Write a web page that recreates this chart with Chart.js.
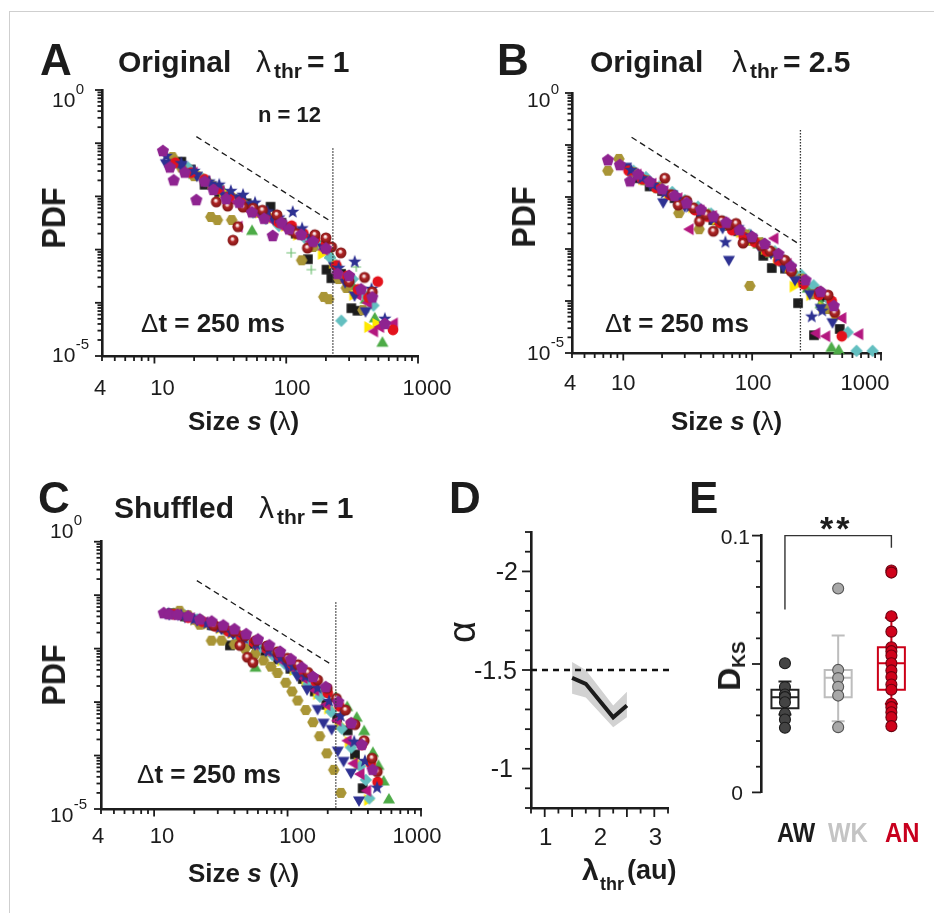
<!DOCTYPE html>
<html>
<head>
<meta charset="utf-8">
<script src="https://cdn.jsdelivr.net/npm/chart.js@4.4.1/dist/chart.umd.min.js"></script>
<style>
  html, body { margin: 0; padding: 0; background: #fff; }
  #fig { position: relative; width: 934px; height: 913px; overflow: hidden; background: #fff;
         font-family: "Liberation Sans", Arial, sans-serif; color: #1c1c1c; }
  #fig canvas { position: absolute; left: 0; top: 0; }
  #frame { position: absolute; left: 9px; top: 11px; width: 940px; height: 920px;
           border-left: 1px solid #cfcfcf; border-top: 1px solid #cfcfcf; }
  .t { position: absolute; white-space: nowrap; line-height: 1; font-weight: bold; }
</style>
</head>
<body>
<div id="fig">
  <div id="frame"></div>
  <canvas id="cA" width="934" height="913"></canvas>
  <canvas id="cB" width="934" height="913"></canvas>
  <canvas id="cC" width="934" height="913"></canvas>
  <canvas id="cD" width="934" height="913"></canvas>
  <canvas id="cE" width="934" height="913"></canvas>
</div>
<script>
// ---- data ----
// order of the 12 recordings: sphere, red circle, yellow ▶, purple pentagon, navy star,
// navy ▼, magenta ◀, cyan diamond, olive hexagon, green ▲, black square, green plus
const aDs = [[29.5,7.9e-3],[36,6.6e-3],[39.5,1.5e-3],[43,2.7e-3],[47,6.3e-3],[56,6.0e-3],[66,5.5e-3],[85,4.5e-3],[110,2.3e-3],[120,2.0e-3],[145,1.07e-3],[165,1.9e-3],[200,1.66e-3],[221,1.12e-3],[260,8.7e-4],[300,2.5e-4],[393,3.0e-4],[450,1.6e-4]];
const aRc = [[14.4,4.3e-2],[19,2.8e-2],[24,2.1e-2],[30,1.38e-2],[37,1.0e-2],[45,7.9e-3],[56,5.6e-3],[70,4.5e-3],[88,3.2e-3],[110,2.8e-3],[135,2.0e-3],[165,1.58e-3],[200,1.26e-3],[240,5.0e-4],[290,3.2e-4],[350,1.78e-4],[420,1.26e-4],[495,2.5e-4],[646,3.1e-5]];
const aYt = [[22,2.5e-2],[27,1.78e-2],[33,1.2e-2],[41,9.5e-3],[50,7.1e-3],[62,5.0e-3],[78,4.0e-3],[97,2.8e-3],[120,1.9e-3],[150,1.58e-3],[185,8.3e-4],[225,5.6e-4],[265,3.2e-4],[320,1.41e-4],[416,3.5e-5],[480,4.0e-5]];
const aPp = [[11.6,7.1e-2],[13.1,3.5e-2],[14,2.0e-2],[17,2.8e-2],[20.8,8.5e-3],[24,1.9e-2],[28,1.32e-2],[35,8.9e-3],[44,7.6e-3],[55,5.0e-3],[68,3.8e-3],[79,1.8e-3],[92,3.2e-3],[105,2.4e-3],[130,1.9e-3],[160,1.41e-3],[200,1.05e-3],[245,3.5e-4],[300,3.2e-4],[370,1.78e-4],[450,1.26e-4],[560,4.0e-5]];
const aNs = [[12.3,5.75e-2],[16,4.2e-2],[20,3.0e-2],[26,1.9e-2],[31,1.66e-2],[38,1.26e-2],[47,1.07e-2],[58,7.6e-3],[72,5.2e-3],[88,4.0e-3],[112,5.1e-3],[132,2.5e-3],[160,1.78e-3],[200,1.12e-3],[250,4.5e-4],[331,5.9e-4],[444,1.82e-4],[560,5.0e-5]];
const aBt = [[12.2,4.3e-2],[16,3.8e-2],[21,2.5e-2],[27,1.66e-2],[34,1.05e-2],[43,9.5e-3],[52,7.1e-3],[65,4.8e-3],[80,3.8e-3],[100,2.8e-3],[125,2.2e-3],[155,1.58e-3],[190,1.12e-3],[230,5.0e-4],[280,2.5e-4],[330,1.41e-4],[400,7.1e-5]];
const aMt = [[20,2.8e-2],[25,1.9e-2],[32,1.26e-2],[38,8.9e-3],[43.9,2.7e-3],[52,5.6e-3],[64,4.5e-3],[80,3.5e-3],[100,2.5e-3],[125,1.9e-3],[155,1.41e-3],[195,1.0e-3],[240,5.0e-4],[290,2.5e-4],[350,1.41e-4],[420,1.0e-4],[468,2.9e-5],[520,3.5e-5],[661,4.1e-5]];
const aCd = [[18,3.5e-2],[23,2.2e-2],[29,1.41e-2],[36,1.0e-2],[45,7.9e-3],[56,5.0e-3],[70,3.8e-3],[88,2.8e-3],[110,2.5e-3],[138,1.66e-3],[172,1.26e-3],[215,7.1e-4],[240,5.0e-4],[262,4.6e-5],[320,2.8e-4],[390,1.41e-4],[460,8.9e-5]];
const aOh = [[13.7,5.5e-2],[16,3.5e-2],[20,2.4e-2],[26.8,4.1e-3],[30,3.6e-3],[38.6,3.6e-3],[45,7.9e-3],[55,5.2e-3],[68,4.2e-3],[85,3.5e-3],[105,2.6e-3],[131,6.3e-4],[160,1.12e-3],[193,1.29e-4],[210,1.17e-4],[250,2.8e-4],[286,1.9e-4],[382,7.3e-5]];
const aGt = [[15,4.0e-2],[20,2.5e-2],[26,1.78e-2],[33,1.26e-2],[40,8.9e-3],[55,2.2e-3],[62,5.0e-3],[72,4.0e-3],[90,3.2e-3],[112,2.4e-3],[140,1.78e-3],[175,1.26e-3],[215,7.9e-4],[260,3.2e-4],[320,2.0e-4],[400,1.12e-4],[470,5.0e-5],[537,1.74e-5]];
const aSq = [[16,4.5e-2],[18.9,3.2e-2],[24,1.66e-2],[31,1.2e-2],[39,8.9e-3],[50,7.4e-3],[60,5.0e-3],[76,6.4e-3],[92,3.2e-3],[118,2.0e-3],[146,6.6e-4],[180,1.2e-3],[202,4.2e-4],[220,2.9e-4],[260,3.5e-4],[312,7.9e-5],[347,7.1e-5]];
const aGp = [[25,1.78e-2],[34,1.12e-2],[45,7.6e-3],[60,5.0e-3],[80,3.5e-3],[109,8.7e-4],[130,2.2e-3],[155,4.2e-4],[185,1.1e-3],[225,6.3e-4],[280,3.5e-4],[340,4.7e-4],[420,7.9e-5]];

const bDs = [[21,2.3e-2],[24,1.1e-2],[26.7,7.0e-3],[31,8.5e-3],[35,6.2e-3],[39,3.4e-3],[44,4.6e-3],[50,2.2e-3],[58,3.5e-3],[66,2.9e-3],[75,3.1e-3],[85,1.3e-3],[100,1.6e-3],[118,1.15e-3],[137,9.3e-4],[179,6.1e-4],[202,3.7e-4],[334,1.5e-4],[388,1.3e-4],[437,6.0e-5]];
const bRc = [[11,3.2e-2],[14,2.2e-2],[18,1.5e-2],[23,1.1e-2],[29,7.6e-3],[36,5.6e-3],[45,4.2e-3],[56,3.2e-3],[70,2.3e-3],[86,1.7e-3],[105,1.35e-3],[130,9.0e-4],[160,6.0e-4],[200,3.8e-4],[250,2.1e-4],[330,1.3e-4],[414,1.0e-4],[496,2.1e-5]];
const bYt = [[14,2.2e-2],[18,1.6e-2],[22,1.15e-2],[27,8.5e-3],[34,6.3e-3],[42,5.0e-3],[52,3.7e-3],[64,2.9e-3],[80,2.1e-3],[100,1.5e-3],[125,1.0e-3],[155,6.8e-4],[190,4.5e-4],[208,1.9e-4],[230,2.4e-4],[280,1.3e-4],[350,7.5e-5],[440,4.8e-5]];
const bPp = [[7.6,5.1e-2],[9.4,4.1e-2],[11.3,2.0e-2],[13,2.7e-2],[16,1.95e-2],[20,1.4e-2],[25,1.05e-2],[31,7.6e-3],[40,5.7e-3],[50,4.2e-3],[63,3.2e-3],[80,2.3e-3],[100,1.7e-3],[125,1.25e-3],[160,8.0e-4],[200,4.6e-4],[260,2.5e-4],[340,1.5e-4],[430,8.0e-5]];
const bNs = [[11.5,3.3e-2],[14,2.3e-2],[17,1.7e-2],[21,1.2e-2],[26,9.0e-3],[33,6.5e-3],[41,5.0e-3],[51,3.8e-3],[62,1.35e-3],[78,2.6e-3],[98,1.8e-3],[125,1.15e-3],[160,7.0e-4],[200,4.4e-4],[290,5.0e-5],[350,6.5e-5]];
const bBt = [[10.5,3.9e-2],[13,2.5e-2],[16,1.9e-2],[20.4,8.1e-3],[24,1.15e-2],[30,6.8e-3],[38,5.5e-3],[48,4.0e-3],[59,2.6e-3],[66,6.3e-4],[74,2.5e-3],[90,1.6e-3],[112,1.2e-3],[140,8.5e-4],[175,4.6e-4],[215,2.6e-4],[280,1.4e-4],[340,7.5e-5],[420,4.0e-5]];
const bMt = [[13,2.7e-2],[17,1.8e-2],[21,1.3e-2],[27,9.5e-3],[33,2.4e-3],[40,5.5e-3],[50,4.3e-3],[62,3.1e-3],[78,2.3e-3],[97,1.6e-3],[120,1.2e-3],[150,1.6e-3],[190,5.2e-4],[240,2.5e-4],[317,2.4e-5],[379,2.1e-5],[505,4.7e-5],[684,2.3e-5]];
const bCd = [[12,3.2e-2],[15,2.4e-2],[19,1.6e-2],[24,1.25e-2],[30,8.6e-3],[38,6.5e-3],[48,4.8e-3],[60,3.4e-3],[75,2.7e-3],[95,1.9e-3],[120,1.3e-3],[150,9.0e-4],[190,5.5e-4],[240,3.2e-4],[300,2.0e-4],[400,1.0e-4],[552,2.5e-5],[646,1.1e-5],[861,1.1e-5]];
const bOh = [[7.6,3.2e-2],[9.25,5.4e-2],[12,3.0e-2],[15,2.1e-2],[19,1.55e-2],[23,1.1e-2],[27,4.9e-3],[38.8,2.4e-3],[45,4.6e-3],[57,3.4e-3],[72,2.6e-3],[90,1.9e-3],[96,1.95e-4],[115,1.35e-3],[145,8.5e-4],[185,5.0e-4],[240,2.7e-4],[300,1.35e-4],[380,7.0e-5]];
const bGt = [[12,2.9e-2],[15,2.0e-2],[19,1.4e-2],[24,1.05e-2],[30,8.2e-3],[37,5.6e-3],[46,4.6e-3],[57,3.0e-3],[72,2.4e-3],[90,1.8e-3],[112,1.2e-3],[140,8.0e-4],[175,5.5e-4],[215,3.4e-4],[270,1.7e-4],[340,8.5e-5],[412,1.23e-5],[470,1.1e-5]];
const bSq = [[13,2.3e-2],[16,1.6e-2],[20,1.3e-2],[25,9.5e-3],[31,7.6e-3],[40,4.8e-3],[50,3.6e-3],[62,2.8e-3],[78,2.2e-3],[95,1.45e-3],[122,7.4e-4],[142,4.3e-4],[180,4.2e-4],[227,9.1e-5],[302,2.2e-5],[355,1.2e-4],[478,2.9e-5]];
const bGp = [[16,1.8e-2],[21,1.3e-2],[28,9.0e-3],[36,6.3e-3],[47,4.5e-3],[60,3.2e-3],[78,2.2e-3],[100,1.5e-3],[130,9.5e-4],[170,5.6e-4],[220,2.9e-4],[290,1.45e-4],[350,1.15e-4],[420,8.0e-5]];

const cDs = [[28,2.7e-2],[33,2.5e-2],[40,2.1e-2],[44,1.15e-2],[48,1.74e-2],[50,6.9e-3],[55,5.5e-3],[58,1.41e-2],[70,1.12e-2],[84,8.7e-3],[100,6.6e-3],[120,5.0e-3],[142,3.6e-3],[168,2.6e-3],[198,1.82e-3],[232,1.17e-3],[272,7.1e-4],[320,3.8e-4],[375,1.9e-4],[430,8.9e-5],[470,5.0e-5]];
const cRc = [[14,4.4e-2],[18,3.8e-2],[23,3.2e-2],[29,2.6e-2],[36,2.1e-2],[45,1.7e-2],[56,1.32e-2],[70,1.0e-2],[87,7.4e-3],[108,5.2e-3],[133,3.6e-3],[163,2.4e-3],[200,1.48e-3],[245,8.3e-4],[300,4.0e-4],[360,1.58e-4],[420,7.1e-5],[473,3.2e-5]];
const cYt = [[20,3.5e-2],[25,2.95e-2],[31,2.4e-2],[38,1.95e-2],[47,1.5e-2],[58,1.15e-2],[72,8.5e-3],[89,6.0e-3],[110,4.0e-3],[135,2.5e-3],[165,1.41e-3],[200,7.6e-4],[240,3.8e-4],[285,1.78e-4],[335,7.1e-5],[398,1.48e-5]];
const cPp = [[11.8,4.6e-2],[13,4.4e-2],[15,4.3e-2],[18,4.0e-2],[22,3.5e-2],[27,3.2e-2],[33,2.7e-2],[40,2.3e-2],[49,1.86e-2],[60,1.48e-2],[73,1.15e-2],[88,8.7e-3],[106,6.3e-3],[128,4.4e-3],[155,2.95e-3],[193,1.9e-3],[240,1.0e-3],[300,4.0e-4],[360,1.58e-4],[434,5.4e-5]];
const cNs = [[12.8,4.5e-2],[16,4.2e-2],[20,3.5e-2],[25,2.95e-2],[31,2.45e-2],[38,2.0e-2],[47,1.58e-2],[58,1.23e-2],[72,9.1e-3],[89,6.6e-3],[110,4.6e-3],[136,3.0e-3],[168,1.82e-3],[205,1.05e-3],[250,5.5e-4],[316,1.82e-4],[380,7.9e-5],[469,2.5e-5]];
const cBt = [[13,4.5e-2],[17,4.0e-2],[21,3.5e-2],[26,2.9e-2],[32,2.4e-2],[39,1.95e-2],[47,1.58e-2],[57,1.23e-2],[69,9.3e-3],[83,6.9e-3],[100,4.8e-3],[118,3.2e-3],[140,1.78e-3],[168,7.6e-4],[186,4.2e-4],[214,3.2e-4],[238,1.26e-4],[263,8.1e-5],[299,4.9e-5],[343,1.48e-5]];
const cMt = [[15,4.3e-2],[19,3.7e-2],[24,3.1e-2],[30,2.5e-2],[37,2.0e-2],[46,1.58e-2],[57,1.2e-2],[71,8.9e-3],[88,6.3e-3],[108,4.4e-3],[133,2.8e-3],[162,1.66e-3],[197,8.9e-4],[238,4.5e-4],[285,1.9e-4],[316,7.1e-5],[355,4.5e-5],[398,2.2e-5]];
const cCd = [[17,4.2e-2],[21,3.5e-2],[26,2.95e-2],[32,2.4e-2],[40,1.86e-2],[50,1.41e-2],[62,1.05e-2],[77,7.6e-3],[95,5.2e-3],[117,3.5e-3],[143,2.2e-3],[175,1.26e-3],[212,6.6e-4],[255,3.2e-4],[300,1.41e-4],[350,6.3e-5],[386,3.5e-5],[410,1.58e-5]];
const cOh = [[15.5,5.1e-2],[18,4.2e-2],[22,2.8e-2],[26.9,1.41e-2],[32,1.41e-2],[40,1.2e-2],[48,1.0e-2],[57,7.9e-3],[66,6.0e-3],[75,4.6e-3],[84,3.5e-3],[97,2.3e-3],[108,1.58e-3],[119,1.07e-3],[137,7.1e-4],[155,4.2e-4],[174,2.3e-4],[197,1.1e-4],[222,5.4e-5],[251,2.0e-5]];
const cGt = [[14,4.4e-2],[18,3.8e-2],[23,3.2e-2],[29,2.6e-2],[36,2.1e-2],[44,1.7e-2],[57.5,4.3e-3],[70,1.0e-2],[86,7.6e-3],[105,5.5e-3],[128,3.8e-3],[155,2.6e-3],[190,1.74e-3],[230,1.2e-3],[280,7.9e-4],[330,5.0e-4],[375,2.8e-4],[436,1.1e-4],[480,6.3e-5],[525,3.2e-5],[575,1.48e-5]];
const cSq = [[13.5,4.6e-2],[17,4.0e-2],[21,3.5e-2],[27,2.75e-2],[37,1.15e-2],[43,1.66e-2],[54,1.23e-2],[68,8.9e-3],[85,6.3e-3],[105,4.2e-3],[130,2.7e-3],[160,1.58e-3],[195,8.9e-4],[235,5.0e-4],[282,2.95e-4],[320,1.05e-4],[365,2.45e-5]];
const cGp = [[24,3.0e-2],[32,2.35e-2],[42,1.74e-2],[55,1.26e-2],[72,8.7e-3],[94,5.8e-3],[122,3.4e-3],[158,1.78e-3],[205,7.9e-4],[265,2.8e-4],[330,7.9e-5]];

// power-law guide (slope -1.5) and cutoff lines
const dashA = [[20.8,0.133],[220,3.35e-3]], cutA = [[226,0.080],[226,1e-5]];
const dashB = [[11.6,0.141],[237,1.2e-3]], cutB = [[237,0.194],[237,1e-5]];
const dashC = [[20.9,0.187],[217,4.9e-3]], cutC = [[230,0.0738],[230,1e-5]];

const xTickVals = [4, 10, 100, 1000];
const xTickLabels = ['4', '10', '100', '1000'];
const yTickVals = [1, 1e-5];
const yTickSup = ['0', '-5'];

// panel D
const thr = [1.5, 1.75, 2.25, 2.5];
const alphaMean = [-1.46, -1.43, -1.26, -1.32];
const alphaHi = [-1.54, -1.50, -1.32, -1.39];
const alphaLo = [-1.38, -1.36, -1.21, -1.26];
const alphaRef = -1.5;
const dXLabels = ['1', '2', '3'];
const dYLabels = ['-2', '-1.5', '-1'];

// panel E
const groups = ['AW', 'WK', 'AN'];
const dksAW = [0.0503, 0.0410, 0.0381, 0.0371, 0.0351, 0.0306, 0.0284, 0.0252];
const dksWK = [0.0794, 0.0477, 0.0445, 0.0411, 0.0377, 0.0254];
const dksAN = [0.0864, 0.0856, 0.0686, 0.0626, 0.0565, 0.0550, 0.0533, 0.0503, 0.0475, 0.0449, 0.0420, 0.0400, 0.0345, 0.0332, 0.0312, 0.0293, 0.0258];
const q1 = [0.0328, 0.0371, 0.0400];
const med = [0.0371, 0.0446, 0.0503];
const q3 = [0.0400, 0.0477, 0.0565];
const whLo = [0.0303, 0.0277, 0.0345];
const whHi = [0.0432, 0.0611, 0.0680];
const sigBar = [0.1, 0.0712, 0.0953]; // top, left foot, right foot

// ---- styling ----
const INK = '#1c1c1c';
const FONT = '"Liberation Sans", Arial, sans-serif';
const W = 934, H = 913;

function marker(shape, col) {
  const S = 18, c = document.createElement('canvas');
  c.width = c.height = S;
  const g = c.getContext('2d');
  g.translate(S / 2, S / 2);
  g.fillStyle = col; g.strokeStyle = col;
  const poly = (n, rot, r) => {
    g.beginPath();
    for (let i = 0; i < n; i++) {
      const a = rot + i * 2 * Math.PI / n;
      g.lineTo(r * Math.cos(a), r * Math.sin(a));
    }
    g.closePath(); g.fill();
  };
  if (shape === 'square') g.fillRect(-4.8, -4.8, 9.6, 9.6);
  else if (shape === 'circle') { g.beginPath(); g.arc(0, 0, 5.4, 0, 2 * Math.PI); g.fill(); }
  else if (shape === 'up') poly(3, -Math.PI / 2, 7);
  else if (shape === 'down') poly(3, Math.PI / 2, 7);
  else if (shape === 'right') poly(3, 0, 7);
  else if (shape === 'left') poly(3, Math.PI, 7);
  else if (shape === 'diamond') poly(4, 0, 6.2);
  else if (shape === 'pent') poly(5, -Math.PI / 2, 6.4);
  else if (shape === 'hex') poly(6, 0, 5.8);
  else if (shape === 'star') {
    g.beginPath();
    for (let i = 0; i < 10; i++) {
      const r = i % 2 ? 2.9 : 7, a = -Math.PI / 2 + i * Math.PI / 5;
      g.lineTo(r * Math.cos(a), r * Math.sin(a));
    }
    g.closePath(); g.fill();
  } else if (shape === 'plus') {
    g.lineWidth = 1.2;
    g.beginPath(); g.moveTo(-4.8, 0); g.lineTo(4.8, 0); g.moveTo(0, -4.8); g.lineTo(0, 4.8); g.stroke();
  } else if (shape === 'sphere') {
    const gr = g.createRadialGradient(-0.8, -1.6, 0.2, 0, 0, 5.6);
    gr.addColorStop(0, '#ffffff'); gr.addColorStop(0.22, '#e9b8b8');
    gr.addColorStop(0.42, '#b02828'); gr.addColorStop(1, '#7c1212');
    g.fillStyle = gr; g.beginPath(); g.arc(0, 0, 5.5, 0, 2 * Math.PI); g.fill();
  }
  return c;
}

const markers = [
  marker('sphere', '#a01e1e'), marker('circle', '#e3121c'), marker('right', '#ffe800'),
  marker('pent', '#8e2390'), marker('star', '#2e3192'), marker('down', '#2e3192'),
  marker('left', '#b3177f'), marker('diamond', '#63bfc0'), marker('hex', '#a99536'),
  marker('up', '#4dab47'), marker('square', '#1c1c1c'), marker('plus', '#6fbf73')
];
// drawing order per recording (lower is drawn on top)
const drawOrder = [2, 4, 9, 1, 3, 5, 6, 8, 7, 10, 11, 12];

function logTicks(lo, hi) {
  const out = [];
  for (let e = -6; e <= 4; e++) for (let k = 1; k <= 9; k++) {
    const v = +(k * Math.pow(10, e)).toPrecision(2);
    if (v >= lo * 0.999 && v <= hi * 1.001) out.push(v);
  }
  return out;
}
function linTicks(lo, hi, step) {
  const out = [], n = Math.round((hi - lo) / step);
  for (let i = 0; i <= n; i++) out.push(+(lo + i * step).toFixed(4));
  return out;
}
const isDecade = v => Math.abs(Math.log10(v) - Math.round(Math.log10(v))) < 1e-6;

// outward tick marks + tick labels, drawn from the chart's scales
function axisMarks(axes) {
  return {
    id: 'axisMarks',
    afterDraw(chart) {
      const ctx = chart.ctx;
      ctx.save();
      ctx.strokeStyle = INK; ctx.fillStyle = INK; ctx.lineWidth = 1.8;
      ctx.textBaseline = 'alphabetic';
      axes.forEach(a => {
        const sc = chart.scales[a.id];
        a.ticks.forEach(v => {
          const p = sc.getPixelForValue(v), len = a.major(v) ? a.long : a.short;
          ctx.beginPath();
          if (sc.isHorizontal()) { ctx.moveTo(p, sc.top); ctx.lineTo(p, sc.top + len); }
          else { ctx.moveTo(sc.right, p); ctx.lineTo(sc.right - len, p); }
          ctx.stroke();
        });
        a.labels.forEach(l => {
          const p = sc.getPixelForValue(l.v);
          ctx.font = a.font;
          if (sc.isHorizontal()) {
            ctx.textAlign = 'center';
            ctx.fillText(l.t, p + (l.dx || 0), sc.top + a.base);
          } else if (l.s !== undefined) {
            ctx.textAlign = 'left';
            const x0 = sc.right - a.left, y0 = p + l.dy;
            ctx.fillText(l.t, x0, y0);
            const w = ctx.measureText(l.t).width;
            ctx.font = a.supFont;
            ctx.fillText(l.s, x0 + w + 0.5, y0 - a.raise);
          } else {
            ctx.textAlign = 'right';
            ctx.fillText(l.t, sc.right - a.gap + (l.dx || 0), p + a.base);
          }
        });
      });
      ctx.restore();
    }
  };
}

function axisCfg(extra) {
  return Object.assign({
    grid: { display: false, drawTicks: false },
    border: { display: true, color: INK, width: 2.6 },
    ticks: { display: false },
    afterFit: s => { if (s.isHorizontal()) s.height = 10; else s.width = 10; }
  }, extra);
}
function pad(l, t, r, b) { return { left: l - 10, top: t, right: W - r, bottom: H - b - 10 }; }
const pts = arr => arr.map(p => ({ x: p[0], y: p[1] }));
const common = { responsive: false, animation: false, events: [],
  plugins: { legend: { display: false }, tooltip: { enabled: false } } };

function logPanel(id, box, sets, dash, cut, lab) {
  const ds = sets.map((d, i) => ({ data: pts(d), pointStyle: markers[i], pointRadius: 5, clip: false, order: drawOrder[i] }));
  ds.push({ data: pts(dash), showLine: true, borderColor: INK, borderWidth: 1.3, borderDash: [6, 4], pointRadius: 0, order: 20 });
  ds.push({ data: pts(cut), showLine: true, borderColor: '#333', borderWidth: 1.3, borderDash: [1.5, 1.5], pointRadius: 0, order: 0 });
  new Chart(document.getElementById(id), {
    type: 'scatter',
    data: { datasets: ds },
    options: Object.assign({}, common, {
      layout: { padding: pad(box[0], box[1], box[2], box[3]) },
      scales: {
        x: axisCfg({ type: 'logarithmic', min: 4, max: 1000 }),
        y: axisCfg({ type: 'logarithmic', min: 1e-5, max: 1 })
      }
    }),
    plugins: [axisMarks([
      { id: 'x', ticks: logTicks(4, 1000), major: isDecade, long: 7.5, short: 5, font: '22px ' + FONT, base: lab.xBase,
        labels: xTickVals.map((v, i) => ({ v, t: xTickLabels[i], dx: lab.xDx[i] })) },
      { id: 'y', ticks: logTicks(1e-5, 1), major: isDecade, long: 7, short: 4.5, font: '21px ' + FONT,
        supFont: '15px ' + FONT, left: lab.yLeft, raise: 13,
        labels: yTickVals.map((v, i) => ({ v, t: '10', s: yTickSup[i], dy: lab.yDy[i] })) }
    ])]
  });
}

logPanel('cA', [102, 90, 418, 356],
  [aDs, aRc, aYt, aPp, aNs, aBt, aMt, aCd, aOh, aGt, aSq, aGp], dashA, cutA,
  { xBase: 39, xDx: [-2, 8, 6, 9], yLeft: 50, yDy: [17, 6] });
logPanel('cB', [572, 93, 881, 353],
  [bDs, bRc, bYt, bPp, bNs, bBt, bMt, bCd, bOh, bGt, bSq, bGp], dashB, cutB,
  { xBase: 37, xDx: [-2, 0, 1, -16], yLeft: 45, yDy: [14, 7] });
logPanel('cC', [101, 541.7, 421, 809],
  [cDs, cRc, cYt, cPp, cNs, cBt, cMt, cCd, cOh, cGt, cSq, cGp], dashC, cutC,
  { xBase: 34, xDx: [-3, 8, 10, -4], yLeft: 51, yDy: [-4, 13] });

// ---- D: exponent vs threshold ----
new Chart(document.getElementById('cD'), {
  type: 'line',
  data: { datasets: [
    { data: thr.map((x, i) => ({ x, y: alphaMean[i] })), borderColor: INK, borderWidth: 4, pointRadius: 0, tension: 0 },
    { data: [{ x: 0.75, y: alphaRef }, { x: 3.33, y: alphaRef }], borderColor: '#111', borderWidth: 2.5, borderDash: [6, 5], pointRadius: 0, clip: false },
    { data: thr.map((x, i) => ({ x, y: alphaHi[i] })), borderWidth: 0, pointRadius: 0, fill: false },
    { data: thr.map((x, i) => ({ x, y: alphaLo[i] })), borderWidth: 0, pointRadius: 0, fill: '-1', backgroundColor: '#d2d2d2' }
  ] },
  options: Object.assign({}, common, {
    layout: { padding: pad(531, 532, 668, 808) },
    scales: {
      x: axisCfg({ type: 'linear', min: 0.75, max: 3.25 }),
      y: axisCfg({ type: 'linear', min: -2.2, max: -0.8, reverse: true })
    }
  }),
  plugins: [axisMarks([
    { id: 'x', ticks: linTicks(0.75, 3.25, 0.25), major: v => Math.abs(v * 2 - Math.round(v * 2)) < 1e-6,
      long: 9, short: 5.5, font: '24px ' + FONT, base: 37,
      labels: dXLabels.map((t, i) => ({ v: i + 1, t, dx: 1 })) },
    { id: 'y', ticks: linTicks(-2.2, -0.8, 0.1), major: v => Math.abs(v * 2 - Math.round(v * 2)) < 1e-6,
      long: 9, short: 6, font: '25px ' + FONT, base: 8.5, gap: 13,
      labels: dYLabels.map((t, i) => ({ v: -2 + i * 0.5, t, dx: [0, -1, -5][i] })) }
  ])]
});

// ---- E: KS distance per state ----
const boxColor = ['#222222', '#bdbdbd', '#cc0018'];
const dotFill = ['#444444', '#a8a8a8', '#d0021b'];
const dotEdge = ['#1a1a1a', '#555555', '#6b0010'];
const boxPlot = {
  id: 'boxPlot',
  beforeDatasetsDraw(chart) {
    const { ctx, scales: { x, y } } = chart;
    ctx.save();
    ctx.lineWidth = 2;
    groups.forEach((g, i) => {
      const cx = x.getPixelForValue(i + 1), hw = 13.5, cw = 6.5;
      const y1 = y.getPixelForValue(q1[i]), y3 = y.getPixelForValue(q3[i]), ym = y.getPixelForValue(med[i]);
      const yl = y.getPixelForValue(whLo[i]), yh = y.getPixelForValue(whHi[i]);
      ctx.strokeStyle = boxColor[i];
      ctx.beginPath();
      ctx.moveTo(cx, y3); ctx.lineTo(cx, yh); ctx.moveTo(cx - cw, yh); ctx.lineTo(cx + cw, yh);
      ctx.moveTo(cx, y1); ctx.lineTo(cx, yl); ctx.moveTo(cx - cw, yl); ctx.lineTo(cx + cw, yl);
      ctx.rect(cx - hw, y3, 2 * hw, y1 - y3);
      ctx.moveTo(cx - hw, ym); ctx.lineTo(cx + hw, ym);
      ctx.stroke();
    });
    const xl = x.getPixelForValue(1), xr = x.getPixelForValue(3), yt = y.getPixelForValue(sigBar[0]);
    ctx.strokeStyle = '#333'; ctx.lineWidth = 1.4;
    ctx.beginPath();
    ctx.moveTo(xl, y.getPixelForValue(sigBar[1])); ctx.lineTo(xl, yt);
    ctx.lineTo(xr, yt); ctx.lineTo(xr, y.getPixelForValue(sigBar[2]));
    ctx.stroke();
    ctx.restore();
  }
};
new Chart(document.getElementById('cE'), {
  type: 'scatter',
  data: { datasets: [dksAW, dksWK, dksAN].map((vals, i) => ({
    data: vals.map(v => ({ x: i + 1, y: v })), pointRadius: 5.5, borderWidth: 1.1,
    backgroundColor: dotFill[i], borderColor: dotEdge[i], clip: false
  })) },
  options: Object.assign({}, common, {
    layout: { padding: { left: 751, top: 535.6, right: W - 918, bottom: H - 792.4 } },
    scales: {
      x: { type: 'linear', min: 0.55, max: 3.5, display: false },
      y: axisCfg({ type: 'linear', min: 0, max: 0.1 })
    }
  }),
  plugins: [boxPlot, axisMarks([
    { id: 'y', ticks: linTicks(0, 0.1, 0.01), major: v => Math.abs(v * 20 - Math.round(v * 20)) < 1e-6,
      long: 9, short: 5, font: '21px ' + FONT, base: 8, gap: 11,
      labels: [{ v: 0.1, t: '0.1', dx: 0 }, { v: 0, t: '0', dx: -7 }] }
  ])]
});

// ---- text ----
const fig = document.getElementById('fig');
function put(html, x, base, size, style) {
  const d = document.createElement('div');
  d.className = 't';
  d.innerHTML = html;
  d.style.left = x + 'px';
  d.style.top = (base - 0.8465 * size) + 'px';
  d.style.fontSize = size + 'px';
  if (style) Object.assign(d.style, style);
  fig.appendChild(d);
}
function putRot(html, cx, cy, size, sx, style) {
  const d = document.createElement('div');
  d.className = 't';
  d.innerHTML = html;
  d.style.left = cx + 'px';
  d.style.top = cy + 'px';
  d.style.fontSize = size + 'px';
  d.style.transform = 'translate(-50%,-50%) rotate(-90deg) scaleX(' + sx + ')';
  if (style) Object.assign(d.style, style);
  fig.appendChild(d);
}
const thin = { fontWeight: 'normal' };

put('A', 40, 75, 44); put('B', 497, 75, 44); put('C', 38, 513, 44);
put('D', 449, 513, 44); put('E', 689, 513, 44);

put('Original', 118, 72, 30); put('λ', 256, 72, 30, thin); put('thr', 274, 78, 21); put('= 1', 307, 72, 30);
put('Original', 590, 72, 30); put('λ', 732, 72, 30, thin); put('thr', 750, 78, 21); put('= 2.5', 783, 72, 30);
put('Shuffled', 114, 518, 30); put('λ', 259, 518, 30, thin); put('thr', 277, 524, 21); put('= 1', 311, 518, 30);

put('n = 12', 258, 123, 22);
const dt = '<span style="font-weight:normal">Δ</span>t = 250 ms';
put(dt, 141, 332, 26); put(dt, 605, 332, 26); put(dt, 137, 783, 26);

const sz = 'Size <i>s</i> (<span style="font-weight:normal">λ</span>)';
put(sz, 188, 430, 26); put(sz, 671, 430, 26); put(sz, 188, 882, 26);

putRot('PDF', 53, 217.5, 34, 0.9); putRot('PDF', 522.5, 217, 34, 0.9); putRot('PDF', 53, 675, 34, 0.9);

putRot('α', 462, 632, 38, 1, thin);
put('λ', 582, 880, 30); put('thr', 600, 890, 18); put('(au)', 627, 880, 27);

putRot('D<span style="font-size:19px;position:relative;top:5px">KS</span>', 729, 666, 32, 1);
put('**', 820, 540, 34, { letterSpacing: '3px' });
const cat = { transform: 'scaleX(0.85)', transformOrigin: '0 0' };
put(groups[0], 777, 843, 28, Object.assign({ color: '#1c1c1c' }, cat));
put(groups[1], 828, 843, 28, Object.assign({ color: '#c4c4c4' }, cat));
put(groups[2], 885, 843, 28, Object.assign({ color: '#c8001e' }, cat));
</script>
</body>
</html>
